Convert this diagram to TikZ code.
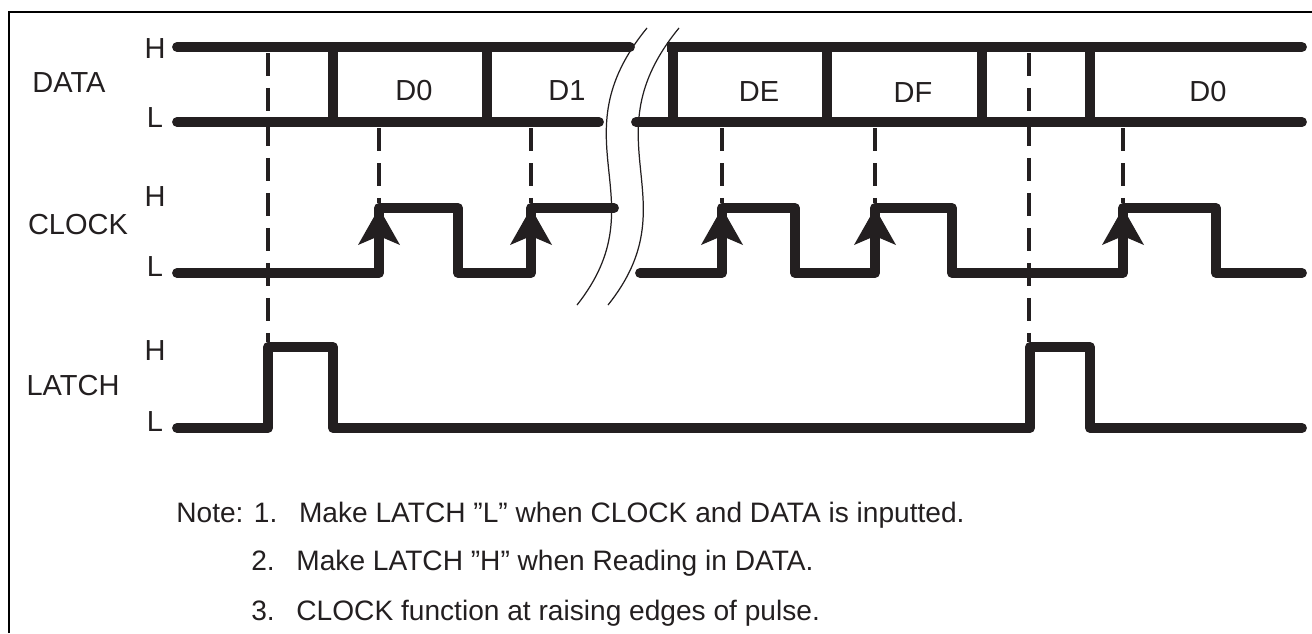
\documentclass[tikz,border=0pt]{standalone}
\usepackage{fontspec}
\setmainfont{Liberation Sans}
\definecolor{ink}{HTML}{231F20}
\begin{document}
\begin{tikzpicture}[x=0.02cm, y=-0.02cm,
  sig/.style={draw=ink, line width=5.6pt, line cap=round, line join=round},
  guide/.style={draw=ink, line width=2.5pt, dash pattern=on 0.46cm off 0.24cm},
  brk/.style={draw=ink, line width=0.7pt},
  frame/.style={draw=black, line width=1.1pt},
  lbl/.style={inner sep=0pt, font=\fontsize{16.5}{19}\selectfont, text=ink},
  note/.style={inner sep=0pt, anchor=west, font=\fontsize{16}{18}\selectfont, text=ink}]
\useasboundingbox (0,0) rectangle (1312,633);
\draw[frame] (9,633) -- (9,12) -- (1312,12);
% signal names and levels
\node[lbl] (data) at (69,83) {DATA};
\node[lbl] (clock) at (78,225) {CLOCK};
\node[lbl] (latch) at (73,386) {LATCH};
\node[lbl] (dataH) at (155,49) {H};
\node[lbl] (dataL) at (155,118) {L};
\node[lbl] (clockH) at (155,197) {H};
\node[lbl] (clockL) at (155,267) {L};
\node[lbl] (latchH) at (155,351) {H};
\node[lbl] (latchL) at (155,422) {L};
% data words
\node[lbl] (d0a) at (414,91) {D0};
\node[lbl] (d1) at (567,91) {D1};
\node[lbl] (de) at (759,92) {DE};
\node[lbl] (df) at (913,93) {DF};
\node[lbl] (d0b) at (1208,92) {D0};
% guides
\draw[guide] (268,53) -- (268,342);
\draw[guide] (1029,53) -- (1029,342);
\draw[guide] (379,128) -- (379,203);
\draw[guide] (531,128) -- (531,203);
\draw[guide] (722,128) -- (722,203);
\draw[guide] (875,128) -- (875,203);
\draw[guide] (1123,128) -- (1123,203);
% DATA
\draw[sig] (177,47) -- (630,47);
\draw[sig] (177,122) -- (599,122);
\draw[sig, line cap=butt] (667,47) -- (1302,47);
\draw[sig] (636,122) -- (1302,122);
\draw[sig] (333,47) -- (333,122);
\draw[sig] (487,47) -- (487,122);
\draw[sig] (673,47) -- (673,122);
\draw[sig] (827,47) -- (827,122);
\draw[sig] (982,47) -- (982,122);
\draw[sig] (1090,47) -- (1090,122);
\draw[sig] (1302,47) -- (1302,47);
% CLOCK
\draw[sig] (177,273) -- (379,273) -- (379,208) -- (458,208) -- (458,273)
  -- (531,273) -- (531,208) -- (614,208);
\draw[sig] (640,273) -- (722,273) -- (722,208) -- (795,208) -- (795,273)
  -- (875,273) -- (875,208) -- (952,208) -- (952,273) -- (1123,273)
  -- (1123,208) -- (1216,208) -- (1216,273) -- (1302,273);
\fill[ink] (379,208) -- (358,245) -- (379,236) -- (400,245) -- cycle;
\fill[ink] (531,208) -- (510,245) -- (531,236) -- (552,245) -- cycle;
\fill[ink] (722,208) -- (701,245) -- (722,236) -- (743,245) -- cycle;
\fill[ink] (875,208) -- (854,245) -- (875,236) -- (896,245) -- cycle;
\fill[ink] (1123,208) -- (1102,245) -- (1123,236) -- (1144,245) -- cycle;
% LATCH
\draw[sig] (177,428) -- (268,428) -- (268,347) -- (333,347) -- (333,428)
  -- (1030,428) -- (1030,347) -- (1090,347) -- (1090,428) -- (1302,428);
% break
\draw[brk] (647,28) .. controls (555,140) and (660,200) .. (577,305);
\draw[brk] (679,28) .. controls (587,140) and (692,200) .. (608,305);
% notes
\node[note] (note1) at (176,515) {Note: 1.\hspace{0.4em} Make LATCH ”L” when CLOCK and DATA is inputted.};
\node[note] (note2) at (251,563) {2.\hspace{0.4em} Make LATCH ”H” when Reading in DATA.};
\node[note] (note3) at (251,613) {3.\hspace{0.4em} CLOCK function at raising edges of pulse.};
\end{tikzpicture}
\end{document}
